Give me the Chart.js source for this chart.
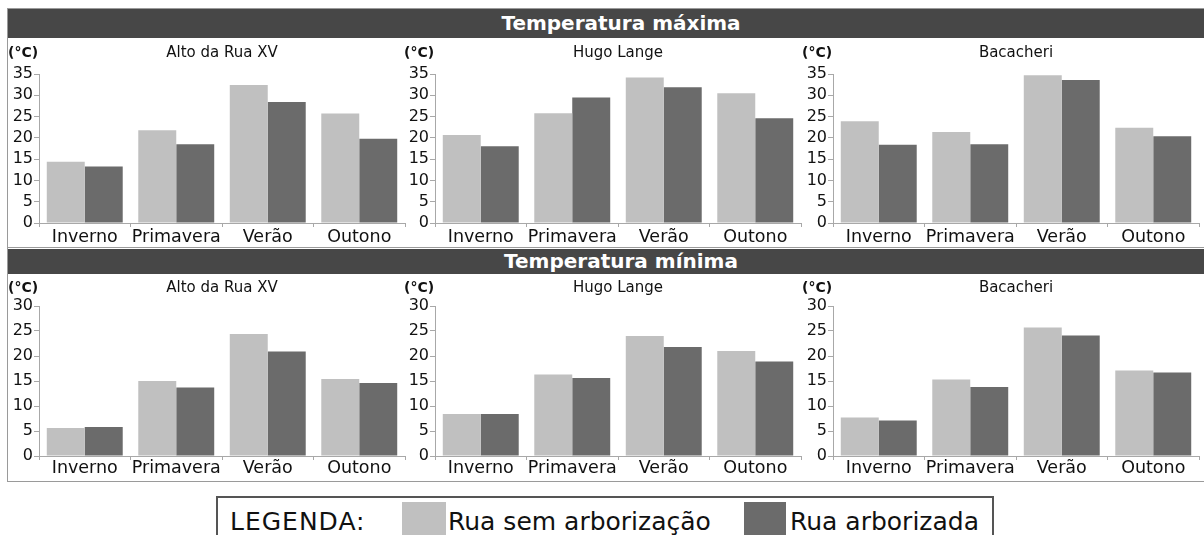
<!DOCTYPE html>
<html>
<head>
<meta charset="utf-8">
<script src="https://cdn.jsdelivr.net/npm/chart.js@4/dist/chart.umd.min.js"></script>
<style>
  body { margin: 0; background: #fff; width: 1204px; height: 535px; overflow: hidden; position: relative; font-family: "DejaVu Sans", sans-serif; }
  .frame { position: absolute; left: 7px; top: 8px; width: 1210px; height: 472px; border: 1px solid #9a9a9a; }
  .sep { position: absolute; left: 7px; top: 247px; width: 1210px; height: 1px; background: #9a9a9a; }
  .header { position: absolute; left: 8px; width: 1196px; background: #474747; color: #fff; font-weight: bold; font-size: 20px; text-align: center; padding-left: 30px; box-sizing: border-box; }
  .panel { position: absolute; width: 400px; }
  .legend { position: absolute; left: 216px; top: 496px; width: 778px; height: 60px; border: 2px solid #555; box-sizing: border-box; }
  .legend span { position: absolute; top: 11px; font-size: 25px; line-height: 25px; color: #111; white-space: nowrap; }
  .sw { position: absolute; top: 4px; height: 60px; }
</style>
</head>
<body>
<div class="frame"></div>
<div class="sep"></div>
<div class="header" style="top:9px;height:29px;line-height:29px;">Temperatura máxima</div>
<div class="header" style="top:249px;height:25px;line-height:25px;">Temperatura mínima</div>

<div class="panel" style="left:7px;top:40px;height:210px;"><canvas id="max0"></canvas></div>
<div class="panel" style="left:403px;top:40px;height:210px;"><canvas id="max1"></canvas></div>
<div class="panel" style="left:801px;top:40px;height:210px;"><canvas id="max2"></canvas></div>
<div class="panel" style="left:7px;top:275px;height:206px;"><canvas id="min0"></canvas></div>
<div class="panel" style="left:403px;top:275px;height:206px;"><canvas id="min1"></canvas></div>
<div class="panel" style="left:801px;top:275px;height:206px;"><canvas id="min2"></canvas></div>

<div class="legend">
  <span style="left:12px;letter-spacing:1px;">LEGENDA:</span>
  <div class="sw" style="left:184px;width:44px;background:#c0c0c0;"></div>
  <span style="left:230px;">Rua sem arborização</span>
  <div class="sw" style="left:526px;width:42px;background:#6b6b6b;"></div>
  <span style="left:572px;">Rua arborizada</span>
</div>

<script>
var categories = ["Inverno", "Primavera", "Verão", "Outono"];
var stations = ["Alto da Rua XV", "Hugo Lange", "Bacacheri"];
var seriesNames = ["Rua sem arborização", "Rua arborizada"];

// temperatura maxima (°C)
var maxAltoSem = [14.4, 21.8, 32.4, 25.7];
var maxAltoArb = [13.3, 18.5, 28.4, 19.8];
var maxHugoSem = [20.7, 25.8, 34.2, 30.5];
var maxHugoArb = [18.0, 29.5, 31.9, 24.6];
var maxBacaSem = [23.9, 21.4, 34.7, 22.4];
var maxBacaArb = [18.4, 18.5, 33.6, 20.4];

// temperatura minima (°C)
var minAltoSem = [5.6, 15.0, 24.4, 15.4];
var minAltoArb = [5.8, 13.7, 20.9, 14.6];
var minHugoSem = [8.4, 16.3, 24.0, 21.0];
var minHugoArb = [8.4, 15.6, 21.8, 18.9];
var minBacaSem = [7.7, 15.3, 25.7, 17.1];
var minBacaArb = [7.1, 13.8, 24.1, 16.7];

var lightColor = "#c0c0c0";
var darkColor = "#6b6b6b";
var axisColor = "#a8a8a8";

// draws station name and the (°C) unit above each plot
var labelsPlugin = {
    id: "panelLabels",
    afterDraw: function (chart) {
        var ctx = chart.ctx;
        var area = chart.chartArea;
        var opts = chart.options.plugins.panelLabels;
        ctx.save();
        ctx.fillStyle = "#111";
        ctx.textBaseline = "middle";
        ctx.font = "bold 14px 'DejaVu Sans'";
        ctx.textAlign = "left";
        ctx.fillText("(°C)", area.left - 31, opts.y);
        ctx.font = "15px 'DejaVu Sans'";
        ctx.textAlign = "center";
        ctx.fillText(opts.title, (area.left + area.right) / 2, opts.y);
        ctx.restore();
    }
};

function makeChart(id, title, sem, arb, yMax, padTop, xHeight, xPad) {
    new Chart(id, {
        type: "bar",
        data: {
            labels: categories,
            datasets: [
                { label: seriesNames[0], data: sem, backgroundColor: lightColor, categoryPercentage: 0.83, barPercentage: 1.0 },
                { label: seriesNames[1], data: arb, backgroundColor: darkColor, categoryPercentage: 0.83, barPercentage: 1.0 }
            ]
        },
        options: {
            responsive: true,
            maintainAspectRatio: false,
            animation: false,
            layout: { padding: { top: padTop, left: 0, right: 2, bottom: 0 } },
            plugins: {
                legend: { display: false },
                tooltip: { enabled: false },
                panelLabels: { title: title, y: 13 }
            },
            scales: {
                x: {
                    grid: { offset: true, drawOnChartArea: false, drawTicks: true, tickLength: 4, color: axisColor },
                    border: { color: axisColor },
                    ticks: { color: "#111", padding: xPad, font: { family: "DejaVu Sans", size: 17.5 }, maxRotation: 0, autoSkip: false },
                    afterFit: function (scale) { scale.height = xHeight; }
                },
                y: {
                    min: 0,
                    max: yMax,
                    grid: { drawOnChartArea: false, drawTicks: true, tickLength: 5, color: axisColor },
                    border: { color: axisColor },
                    ticks: { stepSize: 5, autoSkip: false, color: "#111", padding: 1, font: { family: "DejaVu Sans", size: 16 } },
                    afterFit: function (scale) { scale.width = 32; }
                }
            }
        },
        plugins: [labelsPlugin]
    });
}

makeChart("max0", stations[0], maxAltoSem, maxAltoArb, 35, 34, 27, 0);
makeChart("max1", stations[1], maxHugoSem, maxHugoArb, 35, 34, 27, 0);
makeChart("max2", stations[2], maxBacaSem, maxBacaArb, 35, 34, 27, 0);
makeChart("min0", stations[0], minAltoSem, minAltoArb, 30, 31, 25, -2);
makeChart("min1", stations[1], minHugoSem, minHugoArb, 30, 31, 25, -2);
makeChart("min2", stations[2], minBacaSem, minBacaArb, 30, 31, 25, -2);
</script>
</body>
</html>
